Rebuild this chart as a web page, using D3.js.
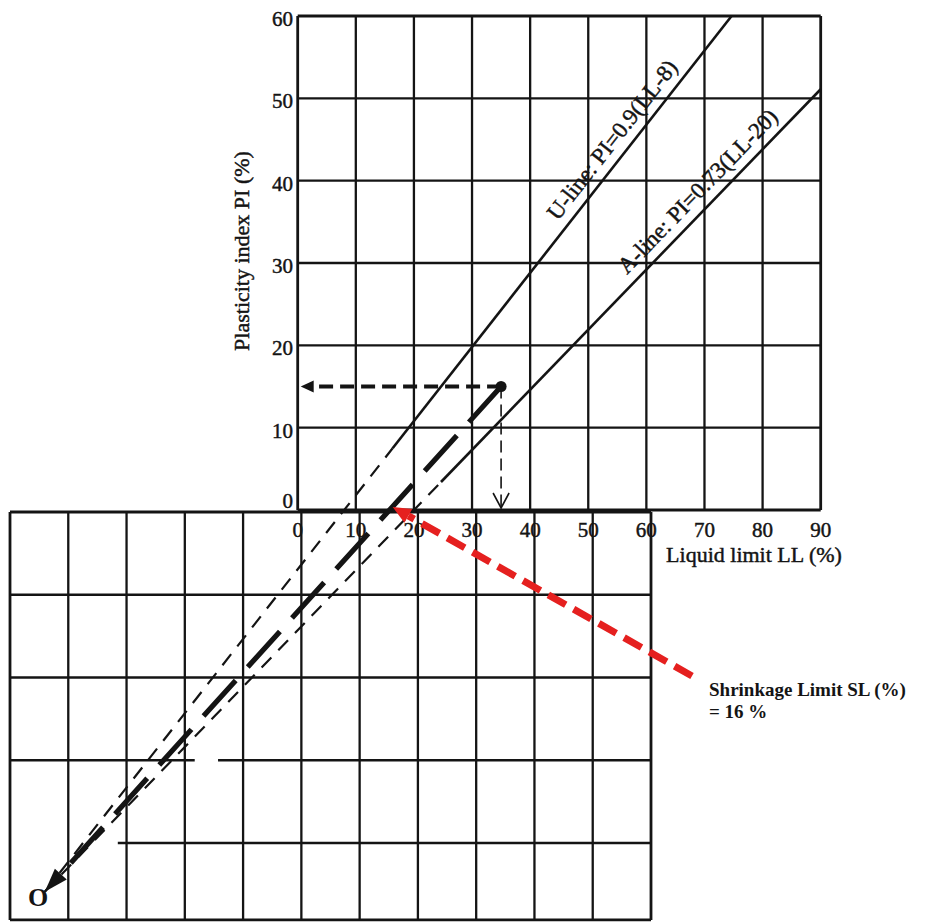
<!DOCTYPE html>
<html><head><meta charset="utf-8">
<script src="https://cdn.jsdelivr.net/npm/d3@7"></script>
<style>html,body{margin:0;background:#fff} svg{display:block} text{paint-order:stroke}</style>
</head><body><svg id="chart" width="926" height="924"></svg>
<script>
// Casagrande plasticity chart with the U- and A-lines extended below the LL axis
// to their intersection O; the line from O through the soil point gives the shrinkage limit.
const llTicks = [0, 10, 20, 30, 40, 50, 60, 70, 80, 90];
const piTicks = [0, 10, 20, 30, 40, 50, 60];
const lowerLL = [-50, -40, -30, -20, -10, 0, 10, 20, 30, 40, 50, 60];
const lowerPI = [0, -10, -20, -30, -40, -49.3];
const lowerRuleBreaks = [[-40, -50, -31.5], [-30, -18.3, -14.3]]; // [PI, LL from, LL to] left blank
const uLine = [0.9, 8];        // PI = 0.9 (LL - 8)
const aLine = [0.73, 20];      // PI = 0.73 (LL - 20)
const solidFromPI = [7.5, 3.4]; // U, A drawn solid above these PI values
const soil = [35, 15];         // LL, PI of the sample
const shrinkageLimit = 16;
const lineLabels = ["U-line: PI=0.9(LL-8)", "A-line: PI=0.73(LL-20)"];
const labelAtLL = [56.5, 71];
const slText = ["Shrinkage Limit SL (%)", "= " + shrinkageLimit + " %"];

const svg = d3.select("#chart");
const serif = "'Liberation Serif','Times New Roman',serif";
const ink = "#141414";
const textStroke = sel => sel.attr("stroke", ink).attr("stroke-width", 0.45);

// upper chart scales
const x = d3.scaleLinear().domain([0, 90]).range([297.7, 820.7]);
const y = d3.scaleLinear().domain([0, 60]).range([510, 16]);
// lower extension grid scales
const xL = d3.scaleLinear().domain([-50, 60]).range([10, 651]);
const yL = d3.scaleLinear().domain([0, -40]).range([512, 843]);

const piOf = (ln, ll) => ln[0] * (ll - ln[1]);
const llOf = (ln, pi) => pi / ln[0] + ln[1];

// intersection O of the U- and A-lines
const llO = (uLine[0] * uLine[1] - aLine[0] * aLine[1]) / (uLine[0] - aLine[0]);
const piO = piOf(uLine, llO);

// ---- lower grid ----
const gL = svg.append("g").attr("stroke", ink).attr("fill", "none");
gL.selectAll("line.v").data(lowerLL).join("line")
  .attr("x1", d => xL(d)).attr("x2", d => xL(d))
  .attr("y1", yL(0)).attr("y2", yL(d3.min(lowerPI)))
  .attr("stroke-width", (d, i) => (i === 0 || i === lowerLL.length - 1) ? 2.8 : 2.3);
const hSegs = [];
lowerPI.forEach((p, i) => {
  let segs = [[lowerLL[0], lowerLL[lowerLL.length - 1]]];
  lowerRuleBreaks.filter(b => b[0] === p).forEach(b => {
    segs = segs.flatMap(s => [[s[0], Math.max(s[0], b[1])], [Math.min(s[1], b[2]), s[1]]]).filter(s => s[1] > s[0]);
  });
  segs.forEach(s => hSegs.push({p, s, edge: i === 0 || i === lowerPI.length - 1}));
});
gL.selectAll("line.h").data(hSegs).join("line")
  .attr("x1", d => xL(d.s[0])).attr("x2", d => xL(d.s[1]))
  .attr("y1", d => yL(d.p)).attr("y2", d => yL(d.p))
  .attr("stroke-width", d => d.edge ? 2.8 : 2.3);

// ---- upper grid ----
const gU = svg.append("g").attr("stroke", ink).attr("fill", "none");
gU.selectAll("line.v").data(llTicks).join("line")
  .attr("x1", d => x(d)).attr("x2", d => x(d))
  .attr("y1", y(0)).attr("y2", y(60))
  .attr("stroke-width", d => (d === 0 || d === 90) ? 2.8 : 2.3);
gU.selectAll("line.h").data(piTicks).join("line")
  .attr("x1", x(0)).attr("x2", x(90))
  .attr("y1", d => y(d)).attr("y2", d => y(d))
  .attr("stroke-width", d => (d === 0 || d === 60) ? 2.8 : 2.3);

// ---- tick labels and axis titles ----
svg.append("g").selectAll("text").data(llTicks).join("text")
  .attr("x", d => x(d)).attr("y", 537)
  .attr("text-anchor", "middle").attr("font-family", serif).attr("font-size", 21)
  .attr("fill", ink).call(textStroke).text(d => d);
svg.append("g").selectAll("text").data(piTicks).join("text")
  .attr("x", 293).attr("y", d => d === 0 ? y(d) - 2 : y(d) + 10)
  .attr("text-anchor", "end").attr("font-family", serif).attr("font-size", 21)
  .attr("fill", ink).call(textStroke).text(d => d);
svg.append("text").attr("transform", "translate(249,251) rotate(-90)")
  .attr("text-anchor", "middle").attr("font-family", serif).attr("font-size", 22)
  .attr("fill", ink).call(textStroke).text("Plasticity index PI (%)");
svg.append("text").attr("x", 754).attr("y", 562)
  .attr("text-anchor", "middle").attr("font-family", serif).attr("font-size", 22)
  .attr("fill", ink).call(textStroke).text("Liquid limit LL (%)");

// ---- U- and A-lines ----
const gLines = svg.append("g").attr("stroke", ink).attr("fill", "none");
const seg = (g, p1, p2, w, dash) => g.append("line")
  .attr("x1", x(p1[0])).attr("y1", y(p1[1])).attr("x2", x(p2[0])).attr("y2", y(p2[1]))
  .attr("stroke-width", w).attr("stroke-dasharray", dash || null);

const uStart = [llOf(uLine, solidFromPI[0]), solidFromPI[0]];
const aStart = [llOf(aLine, solidFromPI[1]), solidFromPI[1]];
seg(gLines, uStart, [llOf(uLine, 60), 60], 2.6);
seg(gLines, aStart, [90, piOf(aLine, 90)], 2.6);
seg(gLines, [llO, piO], uStart, 2.2, "14,10");
seg(gLines, [llO, piO], aStart, 2.2, "14,10");

// labels along the lines
[uLine, aLine].forEach((ln, i) => {
  const ll = labelAtLL[i], pi = piOf(ln, ll);
  const ang = Math.atan2(y(piOf(ln, ll + 10)) - y(pi), x(ll + 10) - x(ll)) * 180 / Math.PI;
  svg.append("text")
    .attr("transform", `translate(${x(ll)},${y(pi)}) rotate(${ang})`)
    .attr("y", -10).attr("text-anchor", "middle")
    .attr("font-family", serif).attr("font-size", 23).attr("fill", ink)
    .call(textStroke).text(lineLabels[i]);
});

// arrowhead helper: filled triangle with tip at (tx,ty), pointing away from (fx,fy)
function arrowHead(g, tx, ty, fx, fy, len, hw, fill) {
  const a = Math.atan2(ty - fy, tx - fx);
  const bx = tx - len * Math.cos(a), by = ty - len * Math.sin(a);
  const px = -Math.sin(a) * hw, py = Math.cos(a) * hw;
  g.append("path").attr("d", `M${tx},${ty}L${bx + px},${by + py}L${bx - px},${by - py}Z`)
    .attr("fill", fill).attr("stroke", "none");
  return [bx, by];
}

// ---- soil point and its projections ----
const sx = x(soil[0]), sy = y(soil[1]);
const gS = svg.append("g");
// horizontal projection to the PI axis
const hb = arrowHead(gS, x(0) + 3, sy, sx, sy, 13, 6, ink);
gS.append("line").attr("x1", sx).attr("y1", sy).attr("x2", hb[0]).attr("y2", sy)
  .attr("stroke", ink).attr("stroke-width", 3.8).attr("stroke-dasharray", "14,7");
// vertical projection to the LL axis
gS.append("line").attr("x1", sx).attr("y1", sy).attr("x2", sx).attr("y2", y(0) - 2)
  .attr("stroke", ink).attr("stroke-width", 1.6).attr("stroke-dasharray", "12,6");
gS.append("path")
  .attr("d", `M${sx - 8},${y(0) - 17}L${sx},${y(0) - 2}L${sx + 8},${y(0) - 17}`)
  .attr("fill", "none").attr("stroke", ink).attr("stroke-width", 1.6);

// line from the soil point to O
const ox = x(llO), oy = y(piO);
const ob = arrowHead(gS, ox, oy, sx, sy, 24, 8, ink);
gS.append("line").attr("x1", sx).attr("y1", sy).attr("x2", ob[0]).attr("y2", ob[1])
  .attr("stroke", ink).attr("stroke-width", 5.2).attr("stroke-dasharray", "48,18");
gS.append("circle").attr("cx", sx).attr("cy", sy).attr("r", 5.5).attr("fill", ink);
svg.append("text").attr("x", 28).attr("y", 906)
  .attr("font-family", serif).attr("font-weight", "bold").attr("font-size", 26)
  .attr("fill", ink).text("O");

// ---- shrinkage limit callout ----
const red = "#e5201f";
const slx = x(shrinkageLimit), sly = y(0);
const tail = [692, 676];
const rb = arrowHead(svg, slx + 2, sly - 3, tail[0], tail[1], 18, 8, red);
svg.append("line").attr("x1", tail[0]).attr("y1", tail[1]).attr("x2", rb[0]).attr("y2", rb[1])
  .attr("stroke", red).attr("stroke-width", 7).attr("stroke-dasharray", "20,9");
svg.append("g").selectAll("text").data(slText).join("text")
  .attr("x", 709).attr("y", (d, i) => 696 + i * 22)
  .attr("font-family", serif).attr("font-weight", "bold").attr("font-size", 19)
  .attr("fill", ink).text(d => d);
</script></body></html>
